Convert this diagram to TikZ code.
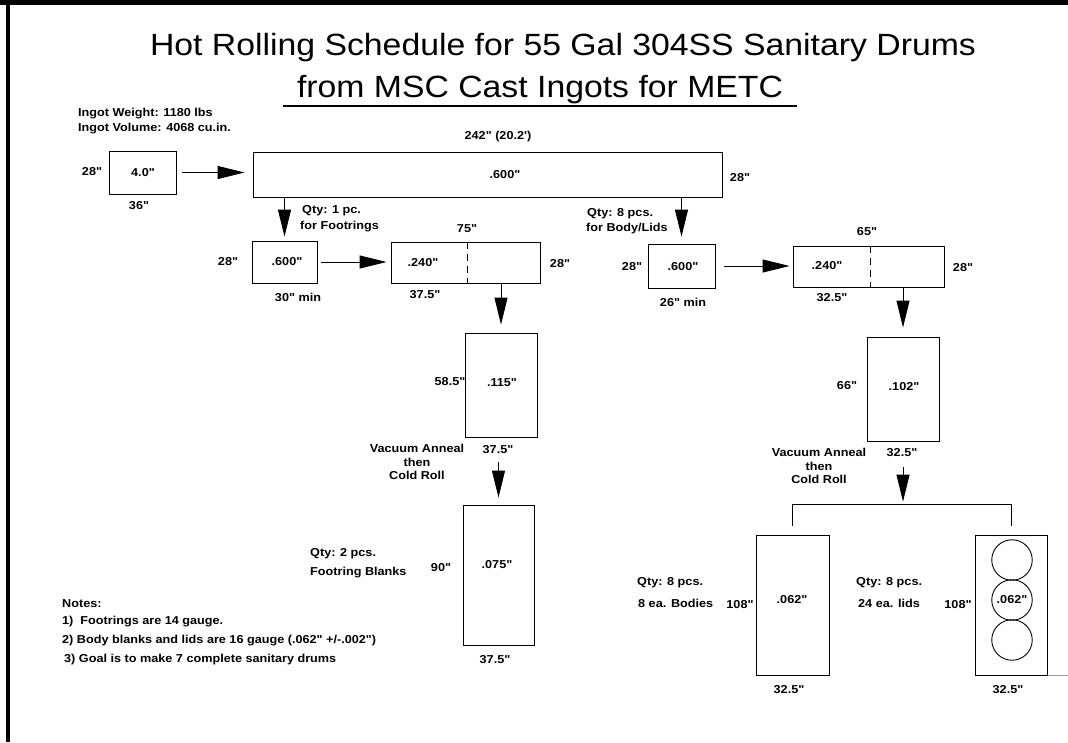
\documentclass[tikz,border=0pt]{standalone}
\usepackage{fontspec}
\setmainfont{Liberation Sans}[FakeStretch=1.1, Ligatures=TeXOff]
\usetikzlibrary{arrows.meta,calc}
\begin{document}
\begin{tikzpicture}[x=1pt,y=-1pt,
  lbl/.style={font=\fontsize{11.5}{13}\selectfont\bfseries, inner sep=0pt},
  lblw/.style={lbl, anchor=west},
  ttl/.style={font=\fontsize{30.7}{36}\selectfont, inner sep=0pt, anchor=base},
  box/.style={draw, line width=0.9pt, inner sep=0pt},
  arr/.style={line width=0.9pt, -{Triangle[length=27pt,width=13pt]}},
  dsh/.style={line width=0.9pt, dash pattern=on 7pt off 5pt},
  disk/.style={draw, circle, line width=0.9pt, minimum size=40.5pt, inner sep=0pt, font=\fontsize{11.5}{13}\selectfont\bfseries}]
\fill[white] (0,0) rectangle (1068,742);
\useasboundingbox (0,0) rectangle (1068,742);
% page border
\draw[line width=5pt] (0,2.5) -- (1068,2.5);
\draw[line width=4pt] (7.5,0) -- (7.5,742);
% title
\node[ttl] (t1) at (563,55) {Hot Rolling Schedule for 55 Gal 304SS Sanitary Drums};
\node[ttl] (t2) at (540,97) {from MSC Cast Ingots for METC};
\coordinate (ulA) at (283,106);
\coordinate (ulB) at (797,106);
\draw[line width=1.2pt] (ulA) -- (ulB);
% ingot info
\node[lblw] (iw) at (78,114) {Ingot Weight: 1180 lbs};
\node[lblw] (iv) at (78,129) {Ingot Volume: 4068 cu.in.};
% boxes
\node[box, minimum width=67pt, minimum height=43pt] (b1) at (142.5,172.5) {};
\node[box, minimum width=469pt, minimum height=45pt] (big) at (487.5,174.5) {};
\node[box, minimum width=65pt, minimum height=42pt] (b2) at (284.5,262) {};
\node[box, minimum width=149pt, minimum height=41pt] (b3) at (465.5,262.5) {};
\node[box, minimum width=72pt, minimum height=104pt] (b4) at (501,385) {};
\node[box, minimum width=71pt, minimum height=140pt] (b5) at (498.5,575) {};
\node[box, minimum width=67pt, minimum height=44pt] (b6) at (681.5,266) {};
\node[box, minimum width=151pt, minimum height=41pt] (b7) at (868.5,266.5) {};
\node[box, minimum width=72pt, minimum height=104pt] (b8) at (903,389) {};
\node[box, minimum width=73pt, minimum height=140pt] (b9) at (792.5,605) {};
\node[box, minimum width=72pt, minimum height=140pt] (b10) at (1011,605) {};
% dashed cut lines
\draw[dsh] (467,0 |- b3.north) -- (467,0 |- b3.south);
\draw[dsh] (870,0 |- b7.north) -- (870,0 |- b7.south);
% lids
\node[disk] (c1) at (1012,560) {};
\node[disk] (c2) at (1012,600) {.062"};
\node[disk] (c3) at (1012,640) {};
% labels in and around boxes
\node[lbl] (l1) at (143,173) {4.0"};
\node[lbl] (l1a) at (92,172) {28"};
\node[lbl] (l1b) at (139,206) {36"};
\node[lbl] (lb) at (505,175) {.600"};
\node[lbl] (lba) at (498,137) {242" (20.2')};
\node[lbl] (lbb) at (740,178) {28"};
\node[lblw] (q1) at (302,211) {Qty: 1 pc.};
\node[lblw] (q1b) at (300,227) {for Footrings};
\node[lbl] (l2) at (287,262) {.600"};
\node[lbl] (l2a) at (228,262) {28"};
\node[lbl] (l2b) at (298,297) {30" min};
\node[lbl] (l3) at (423,263) {.240"};
\node[lbl] (l3a) at (467,229) {75"};
\node[lbl] (l3b) at (560,264) {28"};
\node[lbl] (l3c) at (425,295) {37.5"};
\node[lbl] (l4) at (502,383) {.115"};
\node[lbl] (l4a) at (450,382) {58.5"};
\node[lbl] (l4b) at (498,450) {37.5"};
\node[lbl, align=center] (va1) at (417,462) {Vacuum Anneal\\[1pt]then\\Cold Roll};
\node[lbl] (l5) at (497,565) {.075"};
\node[lbl] (l5a) at (441,568) {90"};
\node[lbl] (l5b) at (495,660) {37.5"};
\node[lblw] (q2) at (310,554) {Qty: 2 pcs.};
\node[lblw] (q2b) at (310,573) {Footring Blanks};
\node[lblw] (q8) at (587,214) {Qty: 8 pcs.};
\node[lblw] (q8b) at (586,229) {for Body/Lids};
\node[lbl] (l6) at (683,267) {.600"};
\node[lbl] (l6a) at (632,267) {28"};
\node[lbl] (l6b) at (683,302) {26" min};
\node[lbl] (l7) at (827,266) {.240"};
\node[lbl] (l7a) at (867,232) {65"};
\node[lbl] (l7b) at (963,268) {28"};
\node[lbl] (l7c) at (832,298) {32.5"};
\node[lbl] (l8) at (904,387) {.102"};
\node[lbl] (l8a) at (847,386) {66"};
\node[lbl] (l8b) at (902,453) {32.5"};
\node[lbl, align=center] (va2) at (819,466) {Vacuum Anneal\\[1pt]then\\Cold Roll};
\node[lbl] (l9) at (792,600) {.062"};
\node[lbl] (l9a) at (740,605) {108"};
\node[lbl] (l9b) at (789,690) {32.5"};
\node[lbl] (l10a) at (958,605) {108"};
\node[lbl] (l10b) at (1008,690) {32.5"};
\node[lblw] (q9) at (637,583) {Qty: 8 pcs.};
\node[lblw] (q9b) at (638,603) {8 ea. Bodies};
\node[lblw] (q10) at (856,583) {Qty: 8 pcs.};
\node[lblw] (q10b) at (858,603) {24 ea. lids};
% notes
\node[lblw] (n0) at (62,604) {Notes:};
\node[lblw] (n1) at (62,622) {1)~~Footrings are 14 gauge.};
\node[lblw] (n2) at (62,641) {2) Body blanks and lids are 16 gauge (.062" +/-.002")};
\node[lblw] (n3) at (64,660) {3) Goal is to make 7 complete sanitary drums};
% arrows
\draw[arr, shorten <=6pt, shorten >=8pt] (b1.east) -- (b1.east -| big.west);
\draw[arr, shorten >=4pt] (b2.north |- big.south) -- (b2.north);
\draw[arr, shorten <=4pt, shorten >=4pt] (b2.east) -- (b2.east -| b3.west);
\draw[arr, shorten >=8pt] (b4.north |- b3.south) -- (b4.north);
\draw[arr, shorten <=25pt, shorten >=7pt] (b5.north |- b4.south) -- (b5.north);
\draw[arr, shorten >=7pt] (b6.north |- big.south) -- (b6.north);
\draw[arr, shorten <=9pt, shorten >=3pt] (b6.east) -- (b6.east -| b7.west);
\draw[arr, shorten >=9pt] (b8.north |- b7.south) -- (b8.north);
% split bracket
\coordinate (brL) at ($(b9.north)+(0,-30)$);
\coordinate (brR) at ($(b10.north)+(0,-30)$);
\coordinate (brM) at (brL -| b8.south);
\draw[arr, shorten <=26pt, shorten >=3pt] (b8.south) -- (brM);
\draw[line width=0.9pt] ($(b9.north)+(0,-9)$) -- (brL) -- (brR) -- ($(b10.north)+(0,-9)$);
% faint edge line
\coordinate (edge) at (1068,675.5);
\draw[line width=0.5pt, black!60] (b10.south east) -- (edge);
\end{tikzpicture}
\end{document}
